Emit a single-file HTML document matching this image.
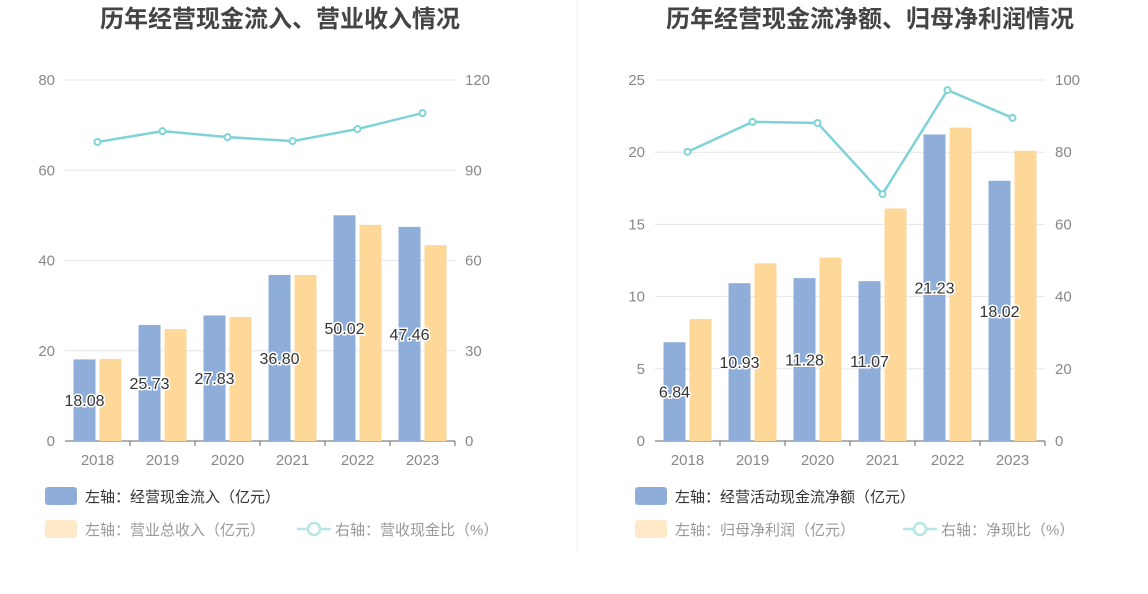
<!DOCTYPE html>
<html><head><meta charset="utf-8"><style>
body{margin:0;background:#fff;width:1148px;height:589px;overflow:hidden;font-family:"Liberation Sans","Noto Sans CJK SC",sans-serif}
svg text{font-family:"Liberation Sans","Noto Sans CJK SC",sans-serif}
</style></head><body>
<svg id="c" width="1148" height="589">
<line x1="577" y1="0" x2="577" y2="550" stroke="#eee"/>
</svg>
<script>
const years=['2018','2019','2020','2021','2022','2023'];
const cashIn=[18.08,25.73,27.83,36.80,50.02,47.46];
const revenue=[18.2,24.8,27.5,36.8,47.9,43.4];
const cashRatio=[99.4,103,101,99.7,103.7,109];
const leftTicks=[0,20,40,60,80];
const leftRTicks=[0,30,60,90,120];
const netCash=[6.84,10.93,11.28,11.07,21.23,18.02];
const netProfit=[8.45,12.3,12.7,16.1,21.7,20.1];
const netRatio=[80.1,88.4,88.1,68.4,97.2,89.5];
const rightTicks=[0,5,10,15,20,25];
const rightRTicks=[0,20,40,60,80,100];
const svg=document.getElementById('c');
const NS='http://www.w3.org/2000/svg';
function mk(t,a,txt){const e=document.createElementNS(NS,t);for(const k in a)e.setAttribute(k,a[k]);if(txt!=null)e.textContent=txt;svg.appendChild(e);return e;}
function chart(o){
 const top=80,bot=441,x0=o.x0,x1=o.x0+390,step=65;
 const y=v=>bot-(v/o.lmax)*(bot-top);
 const yr=v=>bot-(v/o.rmax)*(bot-top);
 const cx=i=>x0+step/2+i*step;
 let t=mk('text',{x:(x0+x1)/2+20,y:27,'text-anchor':'middle','font-size':24,'font-weight':'bold',fill:'#444'},o.title);
 
 
 o.lt.forEach(v=>{
  if(v>0){let g=mk('line',{x1:x0,x2:x1,y1:y(v),y2:y(v),stroke:'#e3e6ee'});
  
  }
  let l=mk('text',{x:x0-10,y:y(v)+5,'text-anchor':'end','font-size':15,fill:'#888'},v);
  
  
 });
 o.rt.forEach(v=>{
  let l=mk('text',{x:x1+10,y:yr(v)+5,'font-size':15,fill:'#888'},v);
  
  
 });
 let ax=mk('line',{x1:x0,x2:x1,y1:bot,y2:bot,stroke:'#666'});
 
 
 years.forEach((yy,i)=>{
  let tk=mk('line',{x1:x0+step*(i+1),x2:x0+step*(i+1),y1:bot,y2:bot+5,stroke:'#666'});
  
  
  let l=mk('text',{x:cx(i),y:bot+24,'text-anchor':'middle','font-size':15,fill:'#888'},yy);
  
  
  let b=mk('rect',{x:cx(i)-24,y:y(o.a[i]),width:22,height:bot-y(o.a[i]),fill:'#8eadd9'});
  
  
  let b2=mk('rect',{x:cx(i)+2,y:y(o.b[i]),width:22,height:bot-y(o.b[i]),fill:'#fed898'});
  
  
 });
 years.forEach((yy,i)=>{
  let v=mk('text',{x:cx(i)-13,y:(y(o.a[i])+bot)/2+6,'text-anchor':'middle','font-size':16,fill:'#333',stroke:'#fff','stroke-width':3,'paint-order':'stroke'},o.a[i].toFixed(2));
  
  
 });
 let p=mk('polyline',{points:o.r.map((v,i)=>cx(i)+','+yr(v)).join(' '),fill:'none',stroke:'#7fd3d7','stroke-width':2.5});
 
 
 o.r.forEach((v,i)=>{
  let c=mk('circle',{cx:cx(i),cy:yr(v),r:3,fill:'#fff',stroke:'#7fd3d7','stroke-width':2});
  
  
 });
 const lx=x0-20;
 let r1=mk('rect',{x:lx,y:487,width:32,height:18,rx:3,fill:'#8eadd9'});
 
 
 let t1=mk('text',{x:lx+40,y:502,'font-size':15,fill:'#333'},o.l1);
 
 
 let r2=mk('rect',{x:lx,y:520,width:32,height:18,rx:3,fill:'#feeac8'});
 
 
 let t2=mk('text',{x:lx+40,y:535,'font-size':15,fill:'#999'},o.l2);
 
 
 const ox=lx+o.l3x;
 let ll=mk('line',{x1:ox,x2:ox+34,y1:529,y2:529,stroke:'#b6e6e8','stroke-width':2.5});
 
 
 let lc=mk('circle',{cx:ox+17,cy:529,r:6,fill:'#fff',stroke:'#b6e6e8','stroke-width':2.5});
 
 
 let t3=mk('text',{x:ox+38,y:535,'font-size':15,fill:'#999'},o.l3);
 
 
}
chart({x0:65,lmax:80,rmax:120,lt:leftTicks,rt:leftRTicks,a:cashIn,b:revenue,r:cashRatio,title:'历年经营现金流入、营业收入情况',l1:'左轴：经营现金流入（亿元）',l2:'左轴：营业总收入（亿元）',l3:'右轴：营收现金比（%）',l3x:252});
chart({x0:655,lmax:25,rmax:100,lt:rightTicks,rt:rightRTicks,a:netCash,b:netProfit,r:netRatio,title:'历年经营现金流净额、归母净利润情况',l1:'左轴：经营活动现金流净额（亿元）',l2:'左轴：归母净利润（亿元）',l3:'右轴：净现比（%）',l3x:268});
</script>
</body></html>
